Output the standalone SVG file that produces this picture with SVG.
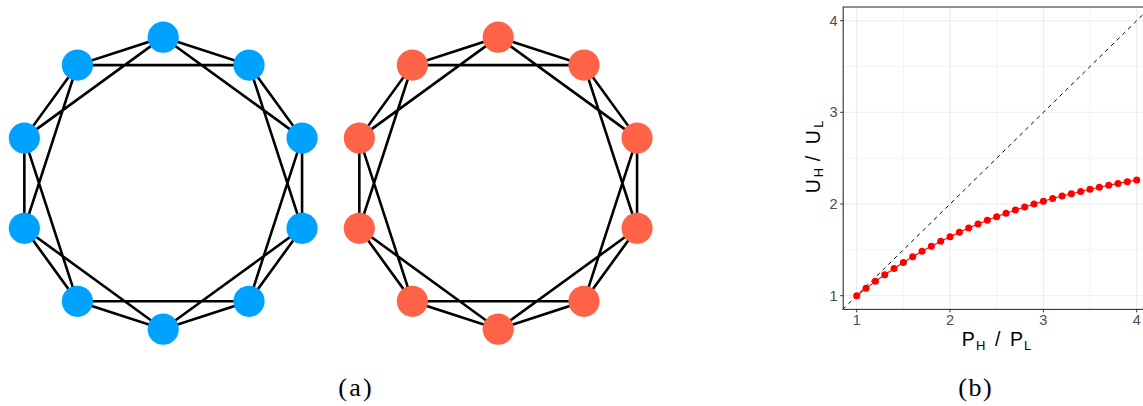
<svg xmlns="http://www.w3.org/2000/svg" width="1143" height="406" viewBox="0 0 1143 406">
<style>
.edge{stroke:#000;stroke-width:2.6;fill:none}
.blue{fill:#00A2FF}
.red{fill:#FF6347}
.grid{stroke:#EBEBEB;stroke-width:1.1}
.gridm{stroke:#F2F2F2;stroke-width:0.9}
.tick{stroke:#333;stroke-width:1}
.tl{font-family:"Liberation Sans",Arial,sans-serif;font-size:14.5px;fill:#4D4D4D}
.at{font-family:"Liberation Sans",Arial,sans-serif;font-size:19.5px;fill:#000}
.sub{font-size:13px}
.pt{fill:#FF0000}
.cap{font-family:"Liberation Serif","Times New Roman",serif;font-size:26px;fill:#000}
</style>
<rect width="1143" height="406" fill="#fff"/>
<g id="connectors">
<g id="edges-a" transform="translate(163.2,183.2)">
<path class="edge" d="M0,-146L85.82,-118.12L138.86,-45.12L138.86,45.12L85.82,118.12L0,146L-85.82,118.12L-138.86,45.12L-138.86,-45.12L-85.82,-118.12Z"/>
<path class="edge" d="M0,-146L138.86,-45.12L85.82,118.12L-85.82,118.12L-138.86,-45.12Z M85.82,-118.12L138.86,45.12L0,146L-138.86,45.12L-85.82,-118.12Z"/>
</g>
<g id="edges-b" transform="translate(498.2,183.2)">
<path class="edge" d="M0,-146L85.82,-118.12L138.86,-45.12L138.86,45.12L85.82,118.12L0,146L-85.82,118.12L-138.86,45.12L-138.86,-45.12L-85.82,-118.12Z"/>
<path class="edge" d="M0,-146L138.86,-45.12L85.82,118.12L-85.82,118.12L-138.86,-45.12Z M85.82,-118.12L138.86,45.12L0,146L-138.86,45.12L-85.82,-118.12Z"/>
</g>
</g>
<g id="graph-a" transform="translate(163.2,183.2)">
<g id="a0"><circle class="blue" cx="0" cy="-146" r="15.6"/></g>
<g id="a1"><circle class="blue" cx="85.82" cy="-118.12" r="15.6"/></g>
<g id="a2"><circle class="blue" cx="138.86" cy="-45.12" r="15.6"/></g>
<g id="a3"><circle class="blue" cx="138.86" cy="45.12" r="15.6"/></g>
<g id="a4"><circle class="blue" cx="85.82" cy="118.12" r="15.6"/></g>
<g id="a5"><circle class="blue" cx="0" cy="146" r="15.6"/></g>
<g id="a6"><circle class="blue" cx="-85.82" cy="118.12" r="15.6"/></g>
<g id="a7"><circle class="blue" cx="-138.86" cy="45.12" r="15.6"/></g>
<g id="a8"><circle class="blue" cx="-138.86" cy="-45.12" r="15.6"/></g>
<g id="a9"><circle class="blue" cx="-85.82" cy="-118.12" r="15.6"/></g>
</g>
<g id="graph-b" transform="translate(498.2,183.2)">
<g id="b0"><circle class="red" cx="0" cy="-146" r="15.6"/></g>
<g id="b1"><circle class="red" cx="85.82" cy="-118.12" r="15.6"/></g>
<g id="b2"><circle class="red" cx="138.86" cy="-45.12" r="15.6"/></g>
<g id="b3"><circle class="red" cx="138.86" cy="45.12" r="15.6"/></g>
<g id="b4"><circle class="red" cx="85.82" cy="118.12" r="15.6"/></g>
<g id="b5"><circle class="red" cx="0" cy="146" r="15.6"/></g>
<g id="b6"><circle class="red" cx="-85.82" cy="118.12" r="15.6"/></g>
<g id="b7"><circle class="red" cx="-138.86" cy="45.12" r="15.6"/></g>
<g id="b8"><circle class="red" cx="-138.86" cy="-45.12" r="15.6"/></g>
<g id="b9"><circle class="red" cx="-85.82" cy="-118.12" r="15.6"/></g>
</g>
<g id="plot">
<g id="gridlines">
<path class="gridm" d="M903.37,7V309.4M996.7,7V309.4M1090.03,7V309.4M842.7,249.9H1150.7M842.7,158.2H1150.7M842.7,66.5H1150.7"/>
<path class="grid" d="M856.7,7V309.4M950.03,7V309.4M1043.37,7V309.4M1136.7,7V309.4M842.7,295.7H1150.7M842.7,204H1150.7M842.7,112.3H1150.7M842.7,20.7H1150.7"/>
</g>
<path d="M842.7,309.4L1150.7,7" stroke="#000" stroke-width="1" stroke-dasharray="4,4" fill="none"/>
<polyline fill="none" stroke="#FF0000" stroke-width="1.1" points="856.7,295.7 866.03,288.35 875.37,281.37 884.7,274.73 894.03,268.42 903.37,262.43 912.7,256.74 922.03,251.33 931.37,246.19 940.7,241.3 950.03,236.66 959.37,232.25 968.7,228.06 978.03,224.08 987.37,220.29 996.7,216.7 1006.03,213.28 1015.37,210.04 1024.7,206.95 1034.03,204.02 1043.37,201.24 1052.7,198.59 1062.03,196.08 1071.37,193.69 1080.7,191.42 1090.03,189.26 1099.37,187.21 1108.7,185.26 1118.03,183.41 1127.37,181.65 1136.7,179.98"/>
<g id="points">
<circle class="pt" cx="856.7" cy="295.7" r="3.5"/><circle class="pt" cx="866.03" cy="288.35" r="3.5"/><circle class="pt" cx="875.37" cy="281.37" r="3.5"/><circle class="pt" cx="884.7" cy="274.73" r="3.5"/><circle class="pt" cx="894.03" cy="268.42" r="3.5"/><circle class="pt" cx="903.37" cy="262.43" r="3.5"/><circle class="pt" cx="912.7" cy="256.74" r="3.5"/><circle class="pt" cx="922.03" cy="251.33" r="3.5"/><circle class="pt" cx="931.37" cy="246.19" r="3.5"/><circle class="pt" cx="940.7" cy="241.3" r="3.5"/><circle class="pt" cx="950.03" cy="236.66" r="3.5"/><circle class="pt" cx="959.37" cy="232.25" r="3.5"/><circle class="pt" cx="968.7" cy="228.06" r="3.5"/><circle class="pt" cx="978.03" cy="224.08" r="3.5"/><circle class="pt" cx="987.37" cy="220.29" r="3.5"/><circle class="pt" cx="996.7" cy="216.7" r="3.5"/><circle class="pt" cx="1006.03" cy="213.28" r="3.5"/><circle class="pt" cx="1015.37" cy="210.04" r="3.5"/><circle class="pt" cx="1024.7" cy="206.95" r="3.5"/><circle class="pt" cx="1034.03" cy="204.02" r="3.5"/><circle class="pt" cx="1043.37" cy="201.24" r="3.5"/><circle class="pt" cx="1052.7" cy="198.59" r="3.5"/><circle class="pt" cx="1062.03" cy="196.08" r="3.5"/><circle class="pt" cx="1071.37" cy="193.69" r="3.5"/><circle class="pt" cx="1080.7" cy="191.42" r="3.5"/><circle class="pt" cx="1090.03" cy="189.26" r="3.5"/><circle class="pt" cx="1099.37" cy="187.21" r="3.5"/><circle class="pt" cx="1108.7" cy="185.26" r="3.5"/><circle class="pt" cx="1118.03" cy="183.41" r="3.5"/><circle class="pt" cx="1127.37" cy="181.65" r="3.5"/><circle class="pt" cx="1136.7" cy="179.98" r="3.5"/>
</g>
<rect x="843.2" y="7" width="308" height="302.4" fill="none" stroke="#333" stroke-width="1.1"/>
<path class="tick" d="M856.7,309.4v3M950.03,309.4v3M1043.37,309.4v3M1136.7,309.4v3M843.2,295.7h-3M843.2,204h-3M843.2,112.3h-3M843.2,20.7h-3"/>
<g class="tl" text-anchor="middle">
<text x="856.7" y="324.5">1</text><text x="950.03" y="324.5">2</text><text x="1043.37" y="324.5">3</text><text x="1136.7" y="324.5">4</text>
</g>
<g class="tl" text-anchor="end">
<text x="837.5" y="300.7">1</text><text x="837.5" y="209">2</text><text x="837.5" y="117.3">3</text><text x="837.5" y="25.7">4</text>
</g>
<text class="at" y="346"><tspan x="961.7">P</tspan><tspan class="sub" x="976" dy="4">H</tspan><tspan x="995" dy="-4">/</tspan><tspan x="1010">P</tspan><tspan class="sub" x="1024" dy="4">L</tspan></text>
<text class="at" transform="translate(820,193.3) rotate(-90)"><tspan x="0">U</tspan><tspan class="sub" x="16" dy="3">H</tspan><tspan x="32" dy="-3">/</tspan><tspan x="49">U</tspan><tspan class="sub" x="65.5" dy="3">L</tspan></text>
</g>
<text class="cap" x="338.3" y="396" textLength="33.4" lengthAdjust="spacing">(a)</text>
<text class="cap" x="958.3" y="396" textLength="33.4" lengthAdjust="spacing">(b)</text>
</svg>
